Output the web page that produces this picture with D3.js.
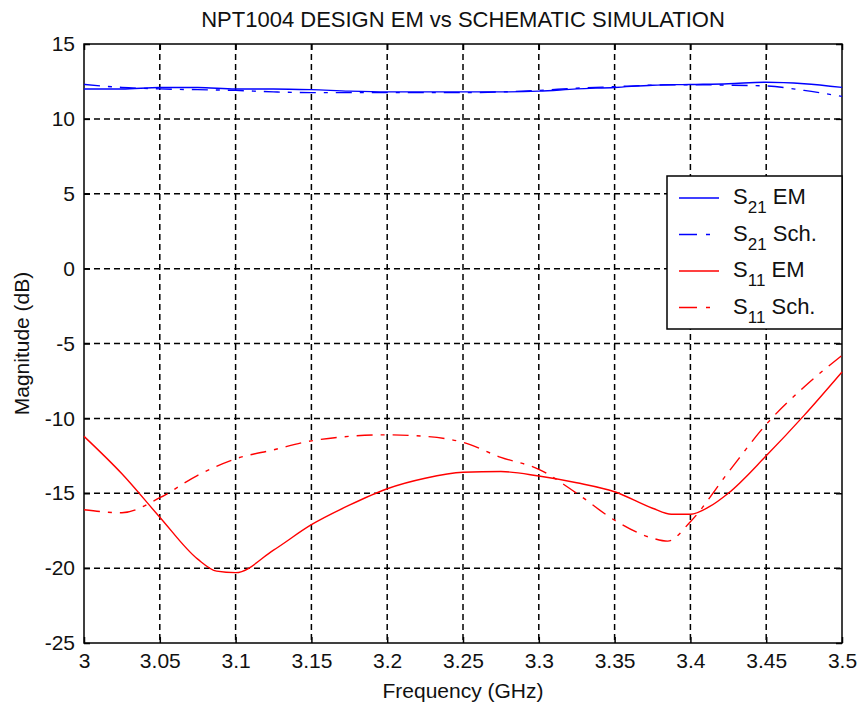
<!DOCTYPE html>
<html lang="en">
<head>
    <meta charset="UTF-8">
    <title>NPT1004 Design EM vs Schematic Simulation</title>
    <script src="https://d3js.org/d3.v7.min.js"></script>
    <style>
        body { margin: 0; background: #fff; }
        text { font-family: "Liberation Sans", Arial, sans-serif; fill: #111; }
        .grid line { stroke: #000; stroke-dasharray: 6,4; stroke-width: 1.5; }
        .frame { fill: none; stroke: #000; stroke-width: 1.5; }
    </style>
</head>
<body>
    <script>
        // Frequency grid (GHz) shared by the S21 curves
        const freqs = [3.000, 3.025, 3.050, 3.075, 3.100, 3.125, 3.150, 3.175, 3.200, 3.225, 3.250,
                       3.275, 3.300, 3.325, 3.350, 3.375, 3.400, 3.425, 3.450, 3.475, 3.500];

        const s21Em  = [12.0, 12.0, 12.1, 12.1, 12.0, 12.0, 11.95, 11.85, 11.8, 11.8, 11.8,
                        11.8, 11.85, 12.0, 12.1, 12.25, 12.3, 12.35, 12.45, 12.35, 12.1];
        const s21Sch = [12.3, 12.1, 12.0, 11.95, 11.9, 11.8, 11.75, 11.75, 11.75, 11.75, 11.75,
                        11.8, 11.9, 12.05, 12.15, 12.25, 12.28, 12.25, 12.2, 11.9, 11.5];

        // S11 curves have a few extra points around their minima
        const s11EmFreqs = [3.000, 3.025, 3.050, 3.075, 3.0875, 3.100, 3.125, 3.150, 3.175, 3.200, 3.225, 3.250,
                            3.275, 3.300, 3.325, 3.350, 3.375, 3.3875, 3.400, 3.4125, 3.425, 3.450, 3.475, 3.500];
        const s11Em = [-11.2, -13.7, -16.6, -19.4, -20.2, -20.3, -18.8, -17.1, -15.8, -14.7, -14.0, -13.6,
                       -13.55, -13.85, -14.3, -14.9, -16.0, -16.4, -16.4, -15.9, -15.0, -12.5, -9.8, -6.9];

        const s11SchFreqs = [3.000, 3.025, 3.050, 3.075, 3.100, 3.125, 3.150, 3.175, 3.200, 3.225, 3.250,
                             3.275, 3.300, 3.325, 3.350, 3.375, 3.385, 3.400, 3.425, 3.450, 3.475, 3.500];
        const s11Sch = [-16.1, -16.3, -15.3, -13.8, -12.7, -12.1, -11.5, -11.2, -11.1, -11.2, -11.6,
                        -12.6, -13.4, -15.0, -16.8, -18.0, -18.2, -16.9, -13.6, -10.4, -7.9, -5.8];

        const xTicks = [3, 3.05, 3.1, 3.15, 3.2, 3.25, 3.3, 3.35, 3.4, 3.45, 3.5];
        const yTicks = [-25, -20, -15, -10, -5, 0, 5, 10, 15];

        const legendNames = [["21", " EM"], ["21", " Sch."], ["11", " EM"], ["11", " Sch."]];

        const width = 860, height = 711;
        const margin = { left: 84, top: 44, right: 18, bottom: 68 };
        const innerW = width - margin.left - margin.right;
        const innerH = height - margin.top - margin.bottom;

        const svg = d3.select("body").append("svg")
            .attr("width", width)
            .attr("height", height);

        const x = d3.scaleLinear().domain([3, 3.5]).range([0, innerW]);
        const y = d3.scaleLinear().domain([-25, 15]).range([innerH, 0]);

        const g = svg.append("g").attr("transform", `translate(${margin.left},${margin.top})`);

        // grid lines
        const grid = g.append("g").attr("class", "grid");
        grid.selectAll(".vx").data(xTicks.slice(1, -1)).enter().append("line")
            .attr("x1", d => x(d)).attr("x2", d => x(d))
            .attr("y1", 0).attr("y2", innerH);
        grid.selectAll(".hy").data(yTicks.slice(1, -1)).enter().append("line")
            .attr("x1", 0).attr("x2", innerW)
            .attr("y1", d => y(d)).attr("y2", d => y(d));

        // plain hyphen for negatives, like the original plot
        const fmt = d => String(d);

        // axes with inward ticks on all four sides
        g.append("g").attr("transform", `translate(0,${innerH})`)
            .call(d3.axisBottom(x).tickValues(xTicks).tickSize(-6).tickPadding(10).tickFormat(fmt))
            .call(a => a.select(".domain").remove());
        g.append("g")
            .call(d3.axisTop(x).tickValues(xTicks).tickSize(-6).tickFormat(""))
            .call(a => a.select(".domain").remove());
        g.append("g")
            .call(d3.axisLeft(y).tickValues(yTicks).tickSize(-6).tickPadding(9).tickFormat(fmt))
            .call(a => a.select(".domain").remove());
        g.append("g").attr("transform", `translate(${innerW},0)`)
            .call(d3.axisRight(y).tickValues(yTicks).tickSize(-6).tickFormat(""))
            .call(a => a.select(".domain").remove());

        g.selectAll(".tick line").attr("stroke", "#000").attr("stroke-width", 1.5);
        g.selectAll(".tick text").attr("font-size", 21).style("font-family", "'Liberation Sans', Arial, sans-serif").attr("fill", "#111");

        g.append("rect").attr("class", "frame")
            .attr("width", innerW).attr("height", innerH);

        // curves
        const line = d3.line()
            .x(d => x(d[0]))
            .y(d => y(d[1]))
            .curve(d3.curveMonotoneX);

        const series = [
            { pts: d3.zip(freqs, s21Em),  color: "#0000ff", dash: null },
            { pts: d3.zip(freqs, s21Sch), color: "#0000ff", dash: "16,8,4,8" },
            { pts: d3.zip(s11EmFreqs, s11Em),   color: "#ff0000", dash: null },
            { pts: d3.zip(s11SchFreqs, s11Sch), color: "#ff0000", dash: "16,8,4,8" }
        ];

        g.selectAll(".curve").data(series).enter().append("path")
            .attr("class", "curve")
            .attr("d", d => line(d.pts))
            .attr("fill", "none")
            .attr("stroke", d => d.color)
            .attr("stroke-width", 1.4)
            .attr("stroke-dasharray", d => d.dash);

        // legend
        const lx = 667 - margin.left, ly = 176 - margin.top;
        const lg = g.append("g").attr("transform", `translate(${lx},${ly})`);
        lg.append("rect")
            .attr("width", innerW - lx).attr("height", 153)
            .attr("fill", "#fff").attr("stroke", "#000").attr("stroke-width", 1.5);

        const items = lg.selectAll(".item").data(series).enter().append("g")
            .attr("transform", (d, i) => `translate(0,${22 + i * 36.5})`);
        items.append("line")
            .attr("x1", 12).attr("x2", 52)
            .attr("stroke", d => d.color)
            .attr("stroke-width", 1.4)
            .attr("stroke-dasharray", d => d.dash ? "18,9,4,9" : null);
        const t = items.append("text").attr("x", 66).attr("y", 6).attr("font-size", 22);
        t.append("tspan").text("S");
        t.append("tspan").attr("font-size", 17).attr("dy", 9).text((d, i) => legendNames[i][0]);
        t.append("tspan").attr("dy", -9).text((d, i) => legendNames[i][1]);

        // titles
        svg.append("text")
            .attr("x", margin.left + innerW / 2).attr("y", 27)
            .attr("text-anchor", "middle").attr("font-size", 22)
            .text("NPT1004 DESIGN EM vs SCHEMATIC SIMULATION");
        svg.append("text")
            .attr("x", margin.left + innerW / 2).attr("y", 698)
            .attr("text-anchor", "middle").attr("font-size", 21)
            .text("Frequency (GHz)");
        svg.append("text")
            .attr("transform", `translate(29,${margin.top + innerH / 2}) rotate(-90)`)
            .attr("text-anchor", "middle").attr("font-size", 21)
            .text("Magnitude (dB)");
    </script>
</body>
</html>
